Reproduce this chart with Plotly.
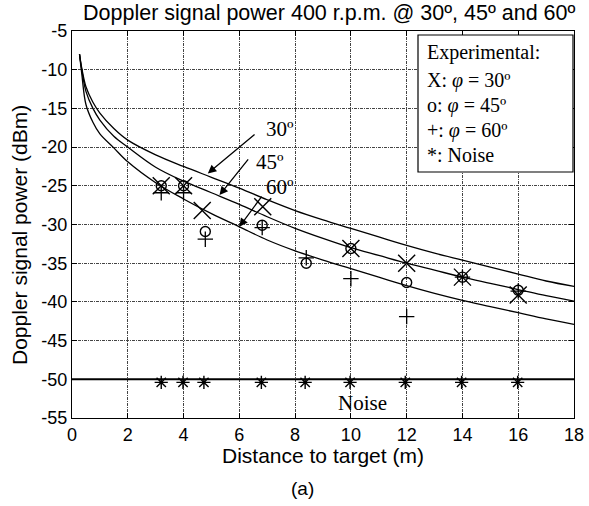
import plotly.graph_objects as go

# ---- data ----
dist_curve = [0.27, 0.35, 0.5, 0.75, 1, 1.5, 2, 3, 4, 5, 6, 7, 8, 9, 10, 11, 12, 13, 14, 15, 16, 17, 18]
curve_30 = [-8.0, -9.8, -12.2, -14.2, -15.6, -17.6, -19.1, -21.0, -22.5, -23.9, -25.3, -26.8, -28.2, -29.4,
            -30.5, -31.6, -32.7, -33.7, -34.6, -35.5, -36.4, -37.3, -38.0]
curve_45 = [-8.0, -10.0, -12.8, -15.0, -16.5, -18.6, -20.0, -22.6, -24.4, -25.9, -27.4, -29.0, -30.5, -31.8,
            -33.0, -34.0, -35.0, -35.9, -36.8, -37.6, -38.4, -39.2, -39.9]
curve_60 = [-8.0, -10.5, -14.5, -16.8, -18.3, -20.1, -21.9, -24.6, -26.7, -28.6, -30.3, -32.0, -33.4, -34.6,
            -35.7, -36.8, -37.9, -38.9, -39.8, -40.6, -41.4, -42.2, -42.9]

dist_x30 = [3.2, 4.0, 4.67, 6.84, 10.0, 12.0, 14.0, 16.0]
exp_30 = [-25.0, -25.0, -28.2, -27.7, -33.1, -35.0, -36.8, -39.1]

dist_exp = [3.2, 4.0, 4.78, 6.82, 8.4, 10.0, 12.0, 14.0, 16.0]
exp_45 = [-25.0, -25.0, -30.9, -30.1, -35.0, -33.1, -37.5, -36.8, -38.5]
exp_60 = [-25.9, -25.9, -31.9, -30.4, -34.3, -37.0, -41.9, -36.8, -38.6]

dist_noise = [3.2, 3.98, 4.73, 6.79, 8.36, 9.97, 11.95, 13.97, 15.98]
noise = [-50.4, -50.4, -50.4, -50.4, -50.4, -50.4, -50.4, -50.4, -50.4]
noise_line_x = [0, 18]
noise_line_y = [-50, -50]

x_ticks = [0, 2, 4, 6, 8, 10, 12, 14, 16, 18]
y_ticks = [-55, -50, -45, -40, -35, -30, -25, -20, -15, -10, -5]

SANS = "Liberation Sans"
SERIF = "Liberation Serif"

W, H = 589, 506
ML, MR, MT, MB = 72, 15, 31, 88
PW, PH = W - ML - MR, H - MT - MB


def px(x):
    return (x - ML) / PW


def py(y):
    return 1 - (y - MT) / PH


fig = go.Figure()
for ys in (curve_30, curve_45, curve_60):
    fig.add_trace(go.Scatter(x=dist_curve, y=ys, mode="lines", line_shape="spline",
                             line=dict(color="black", width=1.3), showlegend=False))
fig.add_trace(go.Scatter(x=noise_line_x, y=noise_line_y, mode="lines",
                         line=dict(color="black", width=2), showlegend=False))
fig.add_trace(go.Scatter(x=dist_x30, y=exp_30, mode="markers",
                         marker=dict(symbol="x-thin-open", size=17, color="black",
                                     line=dict(color="black", width=1.4)),
                         showlegend=False))
fig.add_trace(go.Scatter(x=dist_exp, y=exp_45, mode="markers",
                         marker=dict(symbol="circle-open", size=10, color="black",
                                     line=dict(color="black", width=1.4)),
                         showlegend=False))
fig.add_trace(go.Scatter(x=dist_exp, y=exp_60, mode="markers",
                         marker=dict(symbol="cross-thin-open", size=11, color="black",
                                     line=dict(color="black", width=1.3)),
                         showlegend=False))
fig.add_trace(go.Scatter(x=dist_noise, y=noise, mode="markers",
                         marker=dict(symbol="asterisk-open", size=11, color="black",
                                     line=dict(color="black", width=1.4)),
                         showlegend=False))

grid = dict(showgrid=True, gridcolor="#444444", gridwidth=1, griddash="3px,1px,1px,1px")
common = dict(showline=True, linecolor="black", linewidth=1.2, mirror="ticks",
              ticks="inside", ticklen=5, tickcolor="black", zeroline=False, automargin=False,
              ticklabeloverflow="allow",
              tickfont=dict(family=SANS, size=18, color="black"))
fig.update_xaxes(range=[0, 18], tickvals=x_ticks, ticktext=[str(v) for v in x_ticks], **common, **grid)
fig.update_yaxes(range=[-55, -5], tickvals=y_ticks, ticktext=[str(v) for v in y_ticks], **common, **grid)

annotations = []
# arrows (tail -> tip, data coordinates)
arrows = [((6.6, -18.2), (4.87, -23.4)), ((6.36, -21.4), (5.29, -26.2)), ((6.84, -26.2), (6.0, -30.3))]
for (tx, ty), (hx, hy) in arrows:
    annotations.append(dict(x=hx, y=hy, ax=tx, ay=ty, xref="x", yref="y", axref="x", ayref="y",
                            text="", showarrow=True, arrowhead=2, arrowsize=1.3, arrowwidth=1.3,
                            arrowcolor="black"))
for txt, x, y in [("30º", 7.45, -17.6), ("45º", 7.11, -21.9), ("60º", 7.47, -25.1), ("Noise", 10.4, -53.1)]:
    annotations.append(dict(x=x, y=y, xref="x", yref="y", text=txt, showarrow=False,
                            font=dict(family=SERIF, size=21, color="black")))

# legend box text
leg_lines = [("Experimental:", 53), ("X: <i>φ</i> = 30º", 81), ("o: <i>φ</i> = 45º", 105),
             ("+: <i>φ</i> = 60º", 130), ("*: Noise", 155)]
for txt, yy in leg_lines:
    annotations.append(dict(x=px(425), y=py(yy), xref="paper", yref="paper",
                            xanchor="left", yanchor="middle", text=txt, showarrow=False,
                            font=dict(family=SERIF, size=20, color="black")))

# titles
annotations.append(dict(x=px(329), y=py(13), xref="paper", yref="paper",
                        text="Doppler signal power 400 r.p.m. @ 30º, 45º and 60º",
                        showarrow=False, xanchor="center", yanchor="middle",
                        font=dict(family=SANS, size=21.5, color="black")))
annotations.append(dict(x=px(323), y=py(455), xref="paper", yref="paper", text="Distance to target (m)",
                        showarrow=False, xanchor="center", yanchor="middle",
                        font=dict(family=SANS, size=21, color="black")))
annotations.append(dict(x=px(19), y=py(235), xref="paper", yref="paper", text="Doppler signal power (dBm)",
                        showarrow=False, xanchor="center", yanchor="middle", textangle=-90,
                        font=dict(family=SANS, size=21, color="black")))
annotations.append(dict(x=px(302), y=py(488), xref="paper", yref="paper", text="(a)",
                        showarrow=False, xanchor="center", yanchor="middle",
                        font=dict(family=SANS, size=19, color="black")))

fig.update_layout(
    width=W, height=H, autosize=False,
    margin=dict(l=ML, r=MR, t=MT, b=MB),
    paper_bgcolor="white", plot_bgcolor="white",
    showlegend=False,
    annotations=annotations,
    shapes=[dict(type="rect", xref="paper", yref="paper",
                 x0=px(418), x1=px(573), y0=py(172), y1=py(35),
                 line=dict(color="black", width=1.2), fillcolor="white", layer="above")],
)

fig.write_html("out.html", config={"displayModeBar": False},
               post_script="document.body.style.margin='0';document.body.style.padding='0';"
                           "document.body.style.overflow='hidden';")
